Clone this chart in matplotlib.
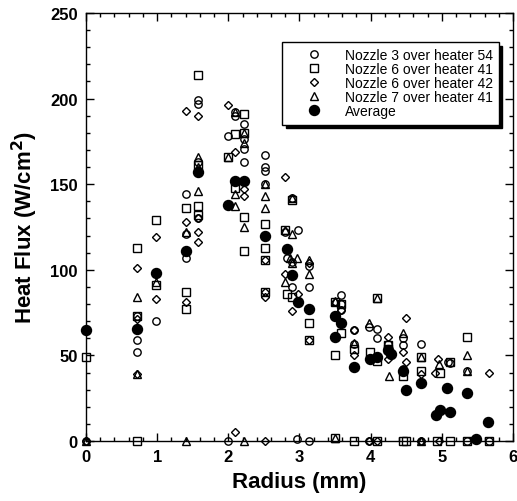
import matplotlib
matplotlib.use("Agg")
import matplotlib.pyplot as plt
from matplotlib.ticker import MultipleLocator

plt.rcParams['font.family'] = ['Liberation Sans', 'DejaVu Sans']

# Nozzle 3 over heater 54 (open circles)
n3h54_r = [0, 0.72, 0.72, 0.72, 0.98, 1.4, 1.4, 1.4, 1.57, 1.57, 1.57, 1.57,
           1.99, 1.99, 2.1, 2.1, 2.22, 2.22, 2.22, 2.22, 2.52, 2.52, 2.52, 2.52,
           2.8, 2.98, 2.82, 2.89, 2.89, 2.89, 2.96, 3.13, 3.14, 3.14,
           3.58, 3.58, 3.58, 3.76, 3.76, 3.98, 3.98, 4.09, 4.09, 4.25,
           4.45, 4.45, 4.45, 4.71, 4.71, 5.08, 5.12, 5.35, 5.35, 5.66]
n3h54_q = [0, 73, 59, 52, 70, 144, 121, 107, 199, 197, 163, 130,
           178, 0, 192, 190, 185, 176.5, 170.7, 163, 167, 160, 157.5, 150,
           122, 123.5, 107, 104.4, 90, 142, 1, 0, 102, 90,
           85, 80, 76.7, 65, 56.6, 66.7, 0, 65.4, 60, 56.6,
           60, 56, 42, 56.6, 0, 46, 45.5, 41, 0, 0]

# Nozzle 6 over heater 41 (open squares)
n6h41_r = [0, 0.72, 0.72, 0.72, 0.98, 0.98, 1.4, 1.4, 1.4, 1.57, 1.57, 1.57, 1.57,
           1.99, 2.1, 2.1, 2.22, 2.22, 2.22, 2.22, 2.52, 2.52, 2.52, 2.52,
           2.8, 2.89, 2.82, 2.89, 3.14, 3.14, 3.5, 3.5, 3.5, 3.58, 3.58,
           3.76, 3.76, 3.99, 4.09, 4.09, 4.09, 4.25, 4.25, 4.45, 4.45, 4.49,
           4.71, 4.71, 4.97, 4.93, 5.12, 5.12, 5.35, 5.35, 5.66]
n6h41_q = [49, 113, 73, 0, 129, 91, 136, 87, 77, 214, 161, 137, 132,
           166, 179.5, 148, 191, 180, 131, 111, 127, 113, 106, 87,
           123, 141, 86, 84, 69, 59, 81, 50, 2, 80, 63,
           54, 0, 52, 83.5, 47, 0, 56, 54, 38, 0, 0,
           49, 41, 40, 0, 46, 0, 61, 0, 0]

# Nozzle 6 over heater 42 (open diamonds)
n6h42_r = [0, 0.72, 0.72, 0.72, 0.98, 0.98, 1.4, 1.4, 1.4, 1.57, 1.57, 1.57, 1.57,
           1.99, 2.1, 2.1, 2.22, 2.22, 2.52, 2.52, 2.52, 2.52, 2.8, 2.8,
           2.98, 2.89, 3.14, 3.14, 3.5, 3.58, 3.76, 3.76, 3.98, 4.09,
           4.25, 4.25, 4.49, 4.49, 4.45, 4.71, 4.71, 4.95, 4.9, 4.96, 5.66]
n6h42_q = [0, 101, 71, 39, 119, 83, 192.5, 128, 81, 190, 130, 122, 116,
           196, 169, 5, 147, 143, 106, 87, 84, 0, 154, 97.5,
           86, 76, 104, 59, 81, 76.7, 65, 50, 0, 0,
           60.5, 48, 72, 46, 52, 39, 0, 48, 40, 0, 40]

# Nozzle 7 over heater 41 (open triangles)
n7h41_r = [0, 0.72, 0.72, 0.98, 1.4, 1.4, 1.57, 1.57, 1.57, 1.99,
           2.1, 2.1, 2.1, 2.22, 2.22, 2.22, 2.22, 2.52, 2.52, 2.52,
           2.8, 2.9, 2.87, 2.96, 2.89, 2.8, 2.89, 3.14, 3.14, 3.5, 3.5,
           3.76, 3.98, 4.09, 4.26, 4.45, 4.71, 4.71, 4.96, 5.35, 5.35]
n7h41_q = [0, 84, 39, 93, 122, 0, 166, 160, 146, 166,
           192, 144, 137.5, 180, 174, 125, 0, 150, 143.4, 136,
           123, 121, 107, 107, 104, 93, 142, 106, 97.5, 82, 2,
           57, 69, 83.5, 38, 63, 49, 0, 45, 50, 41]

# Average (filled circles)
avg_r = [0, 0.72, 0.98, 1.4, 1.57, 2.0, 2.1, 2.22, 2.52, 2.82, 2.89, 2.98,
         3.13, 3.5, 3.58, 3.5, 3.76, 3.99, 4.09, 4.24, 4.28, 4.45, 4.49,
         4.71, 4.92, 4.97, 5.07, 5.11, 5.35, 5.48, 5.65]
avg_q = [65, 65.5, 98, 111, 157, 138, 152, 152, 120, 112, 97, 81,
         77, 73, 69, 61, 43, 48, 49, 53, 51, 41, 30,
         34, 15, 18, 31, 17, 28, 1.4, 11]

fig = plt.figure(figsize=(5.17, 5.02), dpi=100)
ax = fig.add_axes([0.1663, 0.1195, 0.8260, 0.8526])

common = dict(linestyle='none', markerfacecolor='none', markeredgecolor='black',
              markeredgewidth=1.0, clip_on=False)
ax.plot(n3h54_r, n3h54_q, marker='o', markersize=5.3, label='Nozzle 3 over heater 54', **common)
ax.plot(n6h41_r, n6h41_q, marker='s', markersize=5.3, label='Nozzle 6 over heater 41', **common)
ax.plot(n6h42_r, n6h42_q, marker='D', markersize=4, label='Nozzle 6 over heater 42', **common)
ax.plot(n7h41_r, n7h41_q, marker='^', markersize=5.3, label='Nozzle 7 over heater 41', **common)
ax.plot(avg_r, avg_q, linestyle='none', marker='o', markersize=7.2, color='black',
        label='Average', clip_on=False)

ax.set_xlim(0, 6)
ax.set_ylim(0, 250)
ax.xaxis.set_major_locator(MultipleLocator(1))
ax.xaxis.set_minor_locator(MultipleLocator(0.2))
ax.yaxis.set_major_locator(MultipleLocator(50))
ax.yaxis.set_minor_locator(MultipleLocator(10))
ax.tick_params(which='both', direction='in', top=True, right=True, width=1)
ax.tick_params(which='major', length=5.5, labelsize=12, pad=6)
ax.tick_params(which='minor', length=3)
for lab in ax.get_xticklabels() + ax.get_yticklabels():
    lab.set_fontweight('bold')
for sp in ax.spines.values():
    sp.set_linewidth(1.0)

ax.set_xlabel('Radius (mm)', fontsize=16, fontweight='bold', labelpad=5)
ax.set_ylabel('Heat Flux (W/cm$^\\mathbf{2}$)', fontsize=16, fontweight='bold', labelpad=7)

leg = ax.legend(loc='upper right', bbox_to_anchor=(0.967, 0.932), fontsize=10,
                frameon=True, fancybox=False, framealpha=1, edgecolor='black',
                borderpad=0.45, labelspacing=0.0, handlelength=3.75,
                handletextpad=0.3, borderaxespad=0,
                shadow={'facecolor': 'black', 'edgecolor': 'black', 'alpha': 1,
                        'ox': 2.5, 'oy': -2.5})
leg.get_frame().set_linewidth(1.0)

fig.savefig('out.png', dpi=100)
